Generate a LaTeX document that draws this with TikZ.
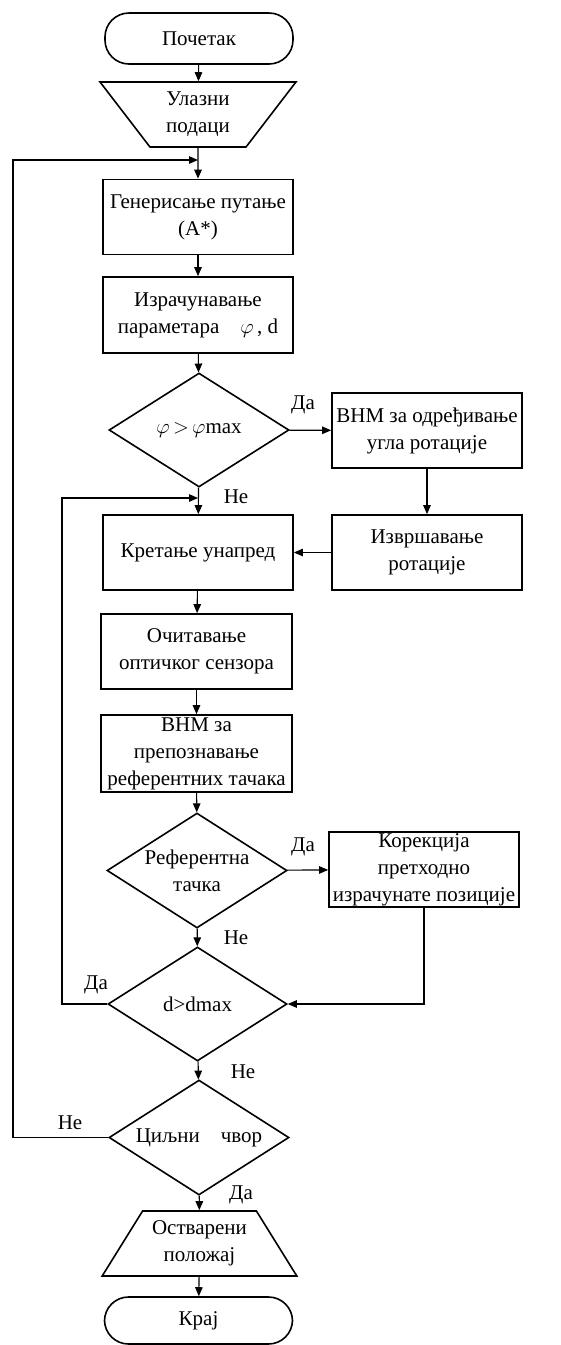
\documentclass[tikz,border=0pt]{standalone}
\usepackage{fontspec}
\setmainfont{Liberation Serif}
\usetikzlibrary{shapes.geometric,arrows.meta}

\begin{document}
\begin{tikzpicture}[x=1pt,y=-1pt,
		font=\fontsize{21}{27}\selectfont,
		every node/.style={inner sep=0pt,align=center},
		box/.style={draw,line width=1.7pt,minimum width=190pt,minimum height=75pt},
		term/.style={draw,line width=1.6pt,rounded corners=24pt,minimum width=188pt,minimum height=51pt},
		decision/.style={draw,diamond,line width=1.6pt,minimum width=180pt,minimum height=114pt,
			label={[align=center]center:#1}},
		datain/.style={draw,trapezium,trapezium stretches=true,line width=1.6pt,
			trapezium left angle=126.4,trapezium right angle=126.4,minimum width=196pt,minimum height=65pt},
		dataout/.style={draw,trapezium,trapezium stretches=true,line width=1.6pt,
			trapezium left angle=53.4,trapezium right angle=53.4,minimum width=195pt,minimum height=65pt},
		flow/.style={line width=1.1pt,-{Triangle[length=9pt,width=7.5pt]}}]
	\useasboundingbox (0,0) rectangle (561,1345);
	% main column
	\node[term] (start) at (199,38.5) {Почетак};
	\node[datain] (input) at (198,114.5) {Улазни\\подаци};
	\node[box] (gen) at (198,217) {Генерисање путање\\(A*)};
	\node[box,minimum height=76pt] (calc) at (198,315) {Израчунавање\\параметара\quad$\varphi$\,, d};
	\node[decision={$\varphi\,{>}\,\varphi$max}] (dphi) at (199,430) {};
	\node[box] (move) at (198,552.5) {Кретање унапред};
	\node[box,minimum width=191pt] (read) at (196.5,651.5) {Очитавање\\оптичког сензора};
	\node[box,minimum width=191pt,minimum height=77pt] (recog) at (196.5,753.5) {ВНМ за\\препознавање\\референтних тачака};
	\node[decision={Референтна\\тачка},minimum height=115pt] (dref) at (197,870.5) {};
	\node[decision={d>dmax},minimum width=179pt] (ddist) at (197.5,1004) {};
	\node[decision={Циљни\quad чвор},minimum height=115pt] (dgoal) at (199,1137.5) {};
	\node[dataout] (output) at (199.5,1243.5) {Остварени\\положај};
	\node[term,minimum height=47pt] (end) at (198.5,1320.5) {Крај};
	% right column
	\node[box] (angle) at (427,430.5) {ВНМ за одређивање\\угла ротације};
	\node[box] (rot) at (427,552.5) {Извршавање\\ротације};
	\node[box] (corr) at (424,869.5) {Корекција\\претходно\\израчунате позиције};
	% loop points
	\coordinate (j1) at (198,498);
	\coordinate (l1) at (62,498);
	\coordinate (j2) at (198,160);
	\coordinate (l2) at (13,160);

	\draw[flow] (start) -- (input);
	\draw[flow] (input) -- (gen);
	\draw[flow] (gen) -- (calc);
	\draw[flow] (calc) -- (dphi);
	\draw[flow] (dphi) -- (angle);
	\draw[flow] (angle) -- (rot);
	\draw[flow] (rot) -- (move);
	\draw[flow] (dphi) -- (move);
	\draw[flow] (move) -- (read);
	\draw[flow] (read) -- (recog);
	\draw[flow] (recog) -- (dref);
	\draw[flow] (dref) -- (corr);
	\draw[flow] (dref) -- (ddist);
	\draw[flow] (corr) |- (ddist);
	\draw[flow] (ddist) -| (l1) -- (j1);
	\draw[flow] (ddist) -- (dgoal);
	\draw[flow] (dgoal) -| (l2) -- (j2);
	\draw[flow] (dgoal) -- (output);
	\draw[flow] (output) -- (end);

	% answers
	\node (y1) at (303,405) {Да};
	\node (n1) at (236,497) {Не};
	\node (y2) at (303,847) {Да};
	\node (n2) at (236,938) {Не};
	\node (y3) at (96,985) {Да};
	\node (n3) at (243,1072) {Не};
	\node (n4) at (70,1123) {Не};
	\node (y4) at (241,1195) {Да};
\end{tikzpicture}
\end{document}
